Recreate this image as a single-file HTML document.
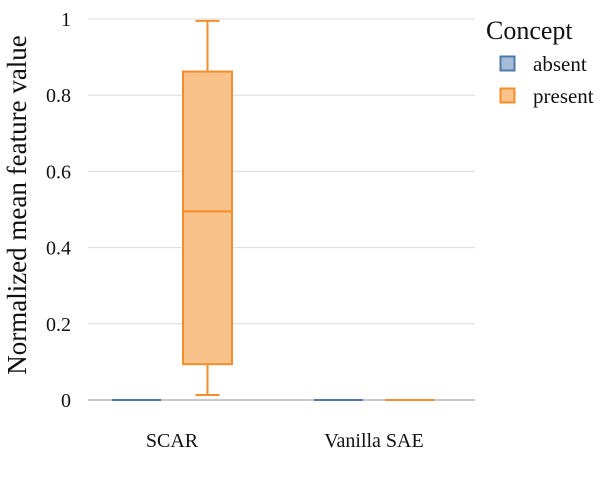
<!DOCTYPE html>
<html><head><meta charset="utf-8"><style>
body{margin:0;background:#fff;}
svg{display:block;font-family:"Liberation Serif",serif;}
</style></head><body>
<svg id="chart" width="613" height="491">
<g id="grid"></g>
<g id="boxes"></g>
<g id="axes"></g>
<text transform="translate(26,205) rotate(-90)" text-anchor="middle" font-size="27" fill="#111">Normalized mean feature value</text>
<g>
<text x="486" y="39" font-size="26" fill="#111">Concept</text>
<g><rect x="500.5" y="56.5" width="14" height="14" fill="#a5bcd9" stroke="#4e79a7" stroke-width="2"/><text x="533" y="71" font-size="21" fill="#111">absent</text></g>
<g><rect x="500.5" y="88.5" width="14" height="14" fill="#f8c28a" stroke="#f28e2b" stroke-width="2"/><text x="533" y="103" font-size="21" fill="#111">present</text></g>
</g>
</svg>
<script>
const categories=["SCAR","Vanilla SAE"];
const groups=["absent","present"];
const yTicks=[0,0.2,0.4,0.6,0.8,1];
const yTickLabels=["0","0.2","0.4","0.6","0.8","1"];
// [min,q1,median,q3,max] per category per group
const absentStats=[[0,0,0,0,0],[0,0,0,0,0]];
const presentStats=[[0.013,0.094,0.495,0.862,0.995],[0,0,0,0,0]];
const ns="http://www.w3.org/2000/svg";
const y=v=>400-v*381;
const xCenter=i=>172+i*202;
const offset=g=>g===0?-35.5:35.5;
const fills=["#a5bcd9","#f8c28a"],strokes=["#4e79a7","#f28e2b"];
function mk(t,a,p){const e=document.createElementNS(ns,t);for(const k in a)e.setAttribute(k,a[k]);p.appendChild(e);return e;}
const grid=document.getElementById('grid'),axes=document.getElementById('axes'),boxes=document.getElementById('boxes');
yTicks.forEach((v,i)=>{
 const l=mk('line',{x1:88,x2:475,y1:y(v),y2:y(v),stroke:v===0?'#c8c8c8':'#dcdcdc','stroke-width':v===0?2:1},grid);
 
 
 const t=mk('text',{x:71,y:y(v)+7,'text-anchor':'end','font-size':20,fill:'#111'},axes);
 t.textContent=yTickLabels[i];
 
 
});
categories.forEach((c,i)=>{
 const t=mk('text',{x:xCenter(i),y:447,'text-anchor':'middle','font-size':20,fill:'#111'},axes);
 t.textContent=c;
 
 
 [absentStats,presentStats].forEach((st,g)=>{
  const s=st[i],cx=xCenter(i)+offset(g),w=49;
  const grp=mk('g',{},boxes);
  
  
  const sw=2,col=strokes[g];
  if(s[3]-s[1]>0){
   mk('line',{x1:cx,x2:cx,y1:y(s[0]),y2:y(s[1]),stroke:col,'stroke-width':sw},grp);
   mk('line',{x1:cx,x2:cx,y1:y(s[3]),y2:y(s[4]),stroke:col,'stroke-width':sw},grp);
   mk('line',{x1:cx-12,x2:cx+12,y1:y(s[0]),y2:y(s[0]),stroke:col,'stroke-width':sw},grp);
   mk('line',{x1:cx-12,x2:cx+12,y1:y(s[4]),y2:y(s[4]),stroke:col,'stroke-width':sw},grp);
   mk('rect',{x:cx-w/2,y:y(s[3]),width:w,height:y(s[1])-y(s[3]),fill:fills[g],stroke:col,'stroke-width':sw},grp);
  }
  mk('line',{x1:cx-w/2,x2:cx+w/2,y1:y(s[2]),y2:y(s[2]),stroke:col,'stroke-width':sw},grp);
 });
});
</script>
</body></html>
